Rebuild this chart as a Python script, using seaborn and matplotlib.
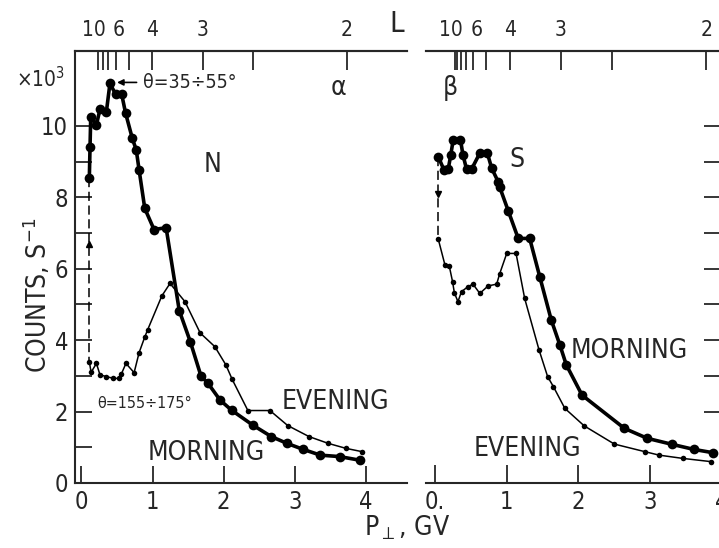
import numpy as np
import pandas as pd
import matplotlib
matplotlib.use("Agg")
import matplotlib.pyplot as plt
import matplotlib.transforms as mtransforms
import seaborn as sns
from matplotlib import font_manager as fm

# ---------------- data ----------------
# Panel a (N): momentum P_perp (GV) vs counts (x10^3 s^-1)
n_morning_p = [0.11, 0.12, 0.13, 0.21, 0.26, 0.35, 0.40, 0.48, 0.565, 0.62, 0.715, 0.77, 0.81,
               0.89, 1.02, 1.19, 1.375, 1.53, 1.68, 1.78, 1.95, 2.11, 2.41, 2.67, 2.89, 3.12,
               3.36, 3.63, 3.91]
n_morning_c = [8.53, 9.42, 10.26, 10.03, 10.47, 10.40, 11.19, 10.89, 10.89, 10.36, 9.65, 9.33, 8.77,
               7.69, 7.10, 7.15, 4.83, 3.96, 3.00, 2.79, 2.32, 2.04, 1.62, 1.30, 1.11, 0.94,
               0.78, 0.74, 0.64]
n_evening_p = [0.11, 0.135, 0.21, 0.26, 0.35, 0.45, 0.53, 0.56, 0.625, 0.74, 0.81, 0.89, 0.93,
               1.13, 1.245, 1.455, 1.67, 1.875, 2.03, 2.12, 2.34, 2.65, 2.90, 3.20, 3.47, 3.72, 3.94]
n_evening_c = [3.40, 3.10, 3.35, 3.03, 2.98, 2.93, 2.93, 3.05, 3.35, 3.09, 3.65, 4.09, 4.29,
               5.24, 5.59, 5.08, 4.20, 3.82, 3.31, 2.90, 2.03, 2.03, 1.61, 1.30, 1.11, 0.97, 0.88]

# Panel b (S)
s_morning_p = [0.046, 0.125, 0.185, 0.22, 0.255, 0.355, 0.39, 0.44, 0.51, 0.625, 0.73, 0.79, 0.88,
               0.90, 1.02, 1.16, 1.32, 1.46, 1.62, 1.74, 1.83, 2.05, 2.64, 2.96, 3.31, 3.61, 3.87]
s_morning_c = [9.14, 8.77, 8.79, 9.19, 9.62, 9.62, 9.19, 8.79, 8.79, 9.24, 9.24, 8.82, 8.44,
               8.30, 7.63, 6.85, 6.85, 5.78, 4.57, 3.87, 3.31, 2.46, 1.53, 1.25, 1.08, 0.94, 0.85]
s_evening_p = [0.046, 0.14, 0.20, 0.245, 0.27, 0.32, 0.37, 0.46, 0.53, 0.625, 0.74, 0.86, 0.90,
               1.00, 1.13, 1.25, 1.45, 1.57, 1.65, 1.81, 2.08, 2.50, 2.92, 3.125, 3.45, 3.84]
s_evening_c = [6.83, 6.10, 6.07, 5.64, 5.33, 5.08, 5.36, 5.50, 5.57, 5.31, 5.52, 5.57, 5.85,
               6.43, 6.43, 5.17, 3.73, 2.98, 2.70, 2.09, 1.60, 1.09, 0.88, 0.78, 0.69, 0.60]

# L-shell top scale
l_ticks = [10, 8, 7, 6, 5, 4, 3, 2.5, 2]
l_ticks_b = [10, 9, 8, 7, 6, 5, 4, 3, 2.5, 2]
l_labels = {10: "10", 6: "6", 4: "4", 3: "3", 2: "2"}

x_ticks = [0, 1, 2, 3, 4]
y_ticks = [0, 1, 2, 3, 4, 5, 6, 7, 8, 9, 10]
y_label_vals = [0, 2, 4, 6, 8, 10]
yb_ticks = [2, 3, 4, 5, 6, 7, 8, 9, 10]

# ---------------- style ----------------
sns.set_theme(style="ticks")
names = {f.name for f in fm.fontManager.ttflist}
FAM = "Liberation Sans Narrow" if "Liberation Sans Narrow" in names else "DejaVu Sans"
plt.rcParams["font.family"] = [FAM, "DejaVu Sans"]
plt.rcParams["font.stretch"] = "condensed"
plt.rcParams["axes.linewidth"] = 1.5

W, H = 719, 548
fig = plt.figure(figsize=(W / 100, H / 100), dpi=100)
fig.patch.set_facecolor("white")

def frac(x0, x1, ytop, ybot):
    return [x0 / W, 1 - ybot / H, (x1 - x0) / W, (ybot - ytop) / H]

axA = fig.add_axes(frac(75, 407, 51, 483))
axB = fig.add_axes(frac(426, 722, 51, 483))

axA.set_xlim(-0.0914, 4.578)
axB.set_xlim(-0.125, 3.986)
for ax in (axA, axB):
    ax.set_ylim(0, 12.1)
    ax.set_facecolor("white")
    ax.grid(False)

TICK_FS = 17
TXT_FS = 19

def draw(ax, mp, mc, ep, ec, arrow_y, arrow_marker):
    dm = pd.DataFrame({"p": mp, "c": mc})
    de = pd.DataFrame({"p": ep, "c": ec})
    sns.lineplot(data=dm, x="p", y="c", ax=ax, sort=False, estimator=None, color="black",
                 linewidth=2.6, marker="o", markersize=7, markeredgewidth=0)
    sns.lineplot(data=de, x="p", y="c", ax=ax, sort=False, estimator=None, color="black",
                 linewidth=1.1, marker="o", markersize=4, markeredgewidth=0)
    ax.plot([mp[0], mp[0]], [mc[0], ec[0]], color="black", linestyle=(0, (6, 3)), linewidth=1.1)
    ax.plot([mp[0]], [arrow_y], marker=arrow_marker, color="black", markersize=5)
    ax.set_xlabel("")
    ax.set_ylabel("")

draw(axA, n_morning_p, n_morning_c, n_evening_p, n_evening_c, 6.7, "^")
draw(axB, s_morning_p, s_morning_c, s_evening_p, s_evening_c, 8.1, "v")

# ---- panel A axes ----
axA.spines["right"].set_visible(False)
axA.set_xticks(x_ticks)
axA.set_xticklabels([str(v) for v in x_ticks], fontsize=TICK_FS)
axA.set_yticks(y_ticks)
axA.set_yticklabels([str(v) if v in y_label_vals else "" for v in y_ticks], fontsize=TICK_FS)
axA.tick_params(axis="both", direction="in", length=12, width=1.3, pad=5)

# ---- panel B axes ----
axB.spines["left"].set_visible(False)
axB.set_xticks(x_ticks)
axB.set_xticklabels(["0."] + [str(v) for v in x_ticks[1:]], fontsize=TICK_FS)
axB.yaxis.tick_right()
axB.set_yticks(yb_ticks)
axB.set_yticklabels([])
axB.tick_params(axis="both", direction="in", length=13, width=1.3, pad=5)

# ---- L scales on top ----
def l_to_p(L, off):
    return 14.6 / L ** 2 + off

label_shift = {10: -4, 6: 3}
for ax, ticks, off in ((axA, l_ticks, 0.08), (axB, l_ticks_b, 0.13)):
    sec = ax.secondary_xaxis("top")
    pos = [l_to_p(L, off) for L in ticks]
    sec.set_xticks(pos)
    sec.set_xticklabels([l_labels.get(L, "") for L in ticks], fontsize=15)
    sec.tick_params(direction="in", length=14, width=1.3, pad=8)
    sec.spines["top"].set_linewidth(1.5)
    for L, lab in zip(ticks, sec.xaxis.get_majorticklabels()):
        if L in label_shift:
            lab.set_transform(lab.get_transform() + mtransforms.ScaledTranslation(
                label_shift[L] / 100, 0, fig.dpi_scale_trans))

# ---- texts ----
axA.annotate("θ=35÷55°", xy=(0.50, 11.22), xytext=(0.86, 11.22), fontsize=14,
             ha="left", va="center",
             arrowprops=dict(arrowstyle="-|>", color="black", lw=1.2, shrinkA=2, shrinkB=0,
                             mutation_scale=9))
axA.text(0.22, 2.24, "θ=155÷175°", fontsize=11.5, ha="left", va="center")
axA.text(3.57, 2.27, "EVENING", fontsize=TXT_FS, ha="center", va="center")
axA.text(1.76, 0.84, "MORNING", fontsize=TXT_FS, ha="center", va="center")
axA.text(1.85, 8.9, "N", fontsize=TXT_FS, ha="center", va="center")
axA.text(3.61, 11.06, "α", fontsize=TXT_FS, ha="center", va="center")

axB.text(2.71, 3.70, "MORNING", fontsize=TXT_FS, ha="center", va="center")
axB.text(1.29, 0.95, "EVENING", fontsize=TXT_FS, ha="center", va="center")
axB.text(1.14, 9.05, "S", fontsize=TXT_FS, ha="center", va="center")
axB.text(0.22, 11.06, "β", fontsize=TXT_FS, ha="center", va="center")

fig.text(41 / W, 1 - 79 / H, "×10$^3$", fontsize=15, ha="center", va="center")
fig.text(37 / W, 1 - 295 / H, "COUNTS, S$^{-1}$", fontsize=TXT_FS, rotation=90,
         ha="center", va="center")
fig.text(397 / W, 1 - 24 / H, "L", fontsize=21, ha="center", va="center")
fig.text(407 / W, 1 - 528 / H, "P$_{\\perp}$, GV", fontsize=TXT_FS, ha="center", va="center")

fig.savefig("out.png", dpi=100, facecolor="white")
